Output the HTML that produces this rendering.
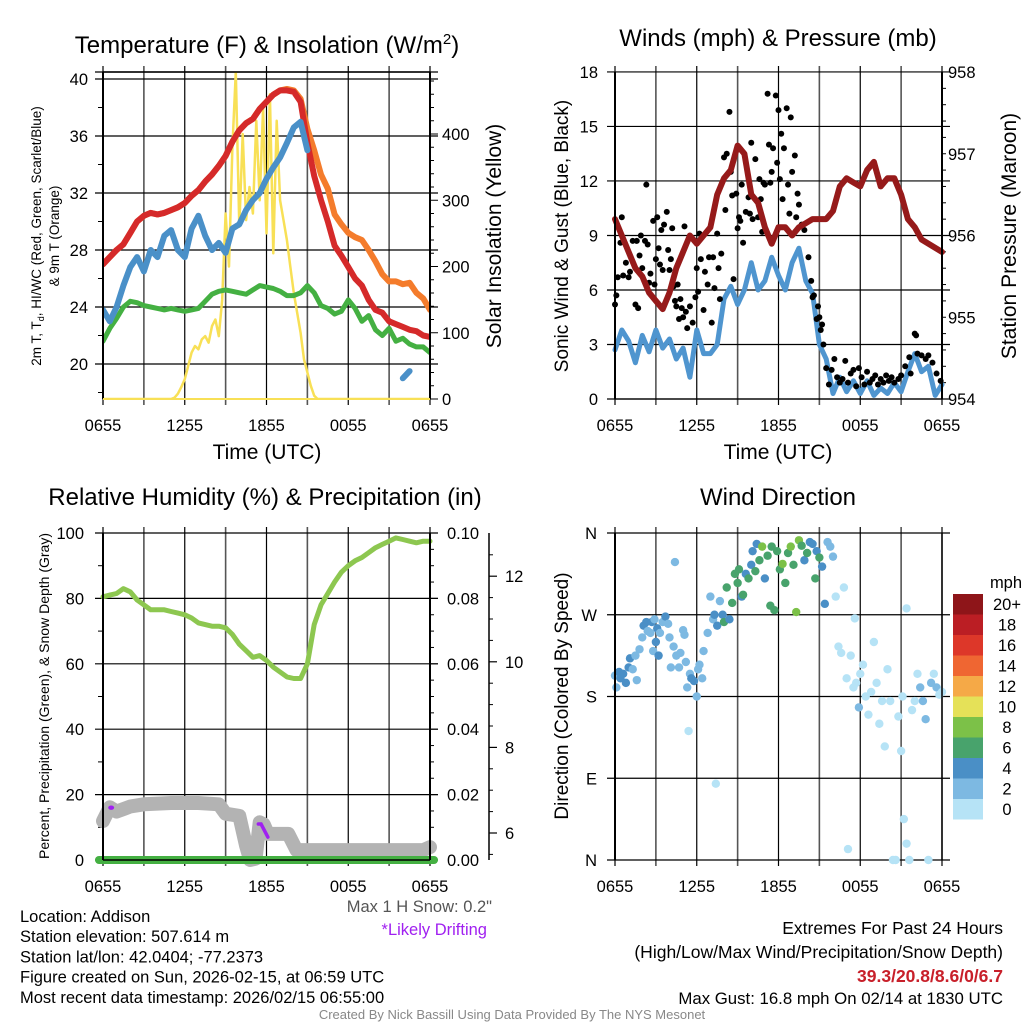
<!DOCTYPE html>
<html><head><meta charset="utf-8"><style>
body{margin:0;background:#fff}
svg{display:block;font-family:"Liberation Sans",sans-serif}
</style></head><body>
<svg id="c" width="1024" height="1024" viewBox="0 0 1024 1024" xmlns="http://www.w3.org/2000/svg"></svg>
<script>
// ---------- data ----------
const hrs = [0,0.5,1,1.5,2,2.5,3,3.5,4,4.5,5,5.5,6,6.5,7,7.5,8,8.5,9,9.5,10,10.5,11,11.5,12,12.5,13,13.5,14,14.5,15,15.5,16,16.5,17,17.5,18,18.5,19,19.5,20,20.5,21,21.5,22,22.5,23,23.5,24];
const xTickLabels = ["0655","1255","1855","0055","0655"];
const tempRed = [27.0,27.5,28.0,28.4,29.2,30.0,30.4,30.6,30.5,30.6,30.8,31.0,31.3,31.8,32.2,32.8,33.3,33.9,34.6,35.6,36.4,36.9,37.2,37.9,38.4,38.9,39.2,39.2,39.1,38.4,35.5,33.2,31.5,30.0,28.3,27.6,26.8,26.0,25.5,24.5,23.8,23.6,23.0,22.8,22.6,22.4,22.3,22.0,21.9];
const tempOrange = [27.0,27.5,28.0,28.4,29.2,30.0,30.4,30.6,30.5,30.6,30.8,31.0,31.3,31.8,32.2,32.8,33.3,33.9,34.6,35.6,36.4,36.9,37.2,37.9,38.4,38.9,39.2,39.3,39.2,38.6,36.5,35.0,33.3,32.3,30.5,29.8,29.2,28.9,28.7,28.0,27.2,26.3,25.8,25.8,25.6,25.7,25.0,24.6,23.8];
const dewGreen = [21.6,22.5,23.2,24.0,24.4,24.3,24.1,24.0,23.9,23.8,23.9,23.8,23.7,23.8,23.9,24.4,24.9,25.1,25.2,25.1,25.0,24.9,25.2,25.5,25.4,25.3,25.1,24.8,24.8,25.0,25.5,25.0,24.1,23.9,23.5,23.7,24.5,23.9,23.0,23.4,22.4,22.0,22.5,21.6,21.8,21.4,21.2,21.2,20.8];
const wcBlue = [23.8,23.0,24.0,25.5,26.8,27.5,26.5,28.0,27.5,29.0,29.4,28.0,27.5,29.5,30.4,29.0,28.0,28.5,27.8,29.5,29.8,30.8,31.5,32.0,33.0,33.8,34.5,35.5,36.6,37.0,35.0,null,null,null,null,null,null,null,null,null,null,null,null,null,19.0,19.5,null,null,null];
const insHrs = [0,5.0,5.25,5.5,5.75,6,6.25,6.5,6.75,7,7.25,7.5,7.75,8,8.25,8.5,8.75,9,9.25,9.5,9.75,10,10.25,10.5,10.75,11,11.25,11.5,11.75,12,12.25,12.5,12.75,13,13.25,13.5,13.75,14,14.25,14.5,14.75,15,15.25,15.5,15.75,24];
const insVals = [0,0,2,8,18,30,50,70,80,75,90,95,85,110,120,95,150,280,200,380,494,260,400,270,320,280,420,300,440,250,460,220,420,300,270,240,200,160,130,100,60,40,20,5,0,0];
const windBlue = [2.7,3.8,3.2,2.0,3.5,2.6,3.8,2.8,3.3,2.2,2.8,1.2,3.8,2.5,2.5,3.0,5.5,6.2,5.2,6.0,7.5,6.0,6.5,7.8,6.8,6.0,7.5,8.3,6.5,5.8,3.0,2.2,0.3,1.2,0.4,1.0,0.3,1.0,0.2,0.6,0.3,0.9,0.4,1.5,2.5,1.5,1.8,0.2,0.8];
const pressure = [956.2,956.0,955.8,955.6,955.5,955.3,955.2,955.1,955.3,955.6,955.8,956.0,955.9,956.0,956.1,956.5,956.7,956.8,957.1,957.0,956.5,956.4,956.1,955.9,956.1,956.1,956.0,956.1,956.15,956.2,956.2,956.2,956.3,956.6,956.7,956.65,956.6,956.8,956.9,956.6,956.7,956.7,956.5,956.2,956.1,955.95,955.9,955.85,955.8];
const gustHrs = [0,0.1,0.2,0.4,0.5,0.6,0.8,1.0,1.1,1.3,1.5,1.6,1.7,1.8,1.9,2.0,2.2,2.3,2.4,2.5,2.6,2.8,2.9,3.0,3.1,3.2,3.3,3.4,3.5,3.6,3.8,3.9,4.0,4.1,4.2,4.3,4.4,4.5,4.6,4.7,4.8,4.9,5.0,5.1,5.2,5.3,5.5,5.7,5.9,6.0,6.1,6.2,6.3,6.5,6.6,6.8,6.9,7.1,7.2,7.3,7.5,7.6,7.7,7.8,8.0,8.1,8.2,8.4,8.5,8.6,8.7,8.9,9.0,9.1,9.2,9.3,9.4,9.6,9.8,9.9,10.0,10.1,10.3,10.5,10.6,10.7,10.8,10.9,11.0,11.2,11.3,11.4,11.5,11.6,11.8,11.9,12.0,12.1,12.2,12.3,12.4,12.6,12.7,12.8,12.9,13.0,13.2,13.3,13.4,13.5,13.7,13.9,14.2,14.4,14.5,14.6,14.8,14.9,15.0,15.1,15.2,15.3,15.5,15.7,15.9,16.1,16.3,16.5,16.7,16.9,17.1,17.3,17.5,17.7,17.9,18.1,18.3,18.5,18.7,18.9,19.1,19.3,19.5,19.7,19.9,20.1,20.3,20.5,20.8,21.0,21.3,21.6,21.7,22.0,22.1,22.2,22.5,22.8,23.0,23.3,23.6,23.9];
const gustVals = [5.2,5.7,6.7,8.6,10.0,6.8,7.5,6.7,7.0,8.7,5.2,8.7,5.0,7.9,9.0,7.2,8.7,11.8,8.5,6.4,6.9,9.8,6.3,7.7,10.0,8.3,7.4,9.3,7.1,9.6,10.3,8.2,7.1,7.7,9.4,6.2,5.4,5.1,6.3,4.4,5.5,5.0,4.5,9.5,4.8,3.9,5.1,4.2,5.6,7.2,5.9,9.1,7.7,4.9,7.0,6.3,7.8,4.2,7.8,6.1,9.1,7.2,5.5,8.0,13.3,10.4,13.5,15.8,12.5,11.2,6.6,11.3,9.4,10.0,9.8,11.8,8.6,10.3,11.1,10.2,14.1,9.9,13.2,10.0,12.1,11.0,9.2,11.9,11.8,16.8,14.0,11.9,12.5,13.8,16.7,13.0,15.9,12.1,14.6,11.0,13.8,16.0,11.8,10.2,15.5,12.5,13.4,10.0,11.3,10.7,9.6,9.3,7.8,6.5,5.6,5.7,4.4,5.1,4.5,3.8,4.1,3.0,1.7,0.8,1.6,2.2,1.2,0.9,1.1,2.1,0.9,1.4,1.6,0.7,1.7,1.2,0.8,1.5,0.9,1.1,1.3,0.8,1.1,0.9,1.3,1.0,1.2,0.9,1.1,1.3,1.8,2.3,1.4,3.6,3.5,2.5,2.4,2.2,2.4,2.0,1.4,1.0];
const rh = [80.5,81,81.5,83,82,79.5,78,76.5,76.5,76.5,76,75.5,75,74,72.5,72,71.5,71.5,71,69,66,64,62,62.5,61,59,57.5,56,55.5,55.5,60,72,78,81.5,85,88,90,91.5,92.5,94,95.5,96.5,97.5,98.5,98,97.5,97,97.5,97.5];
const snowHrs = [0,0.5,1,2,3,5,7,8.5,9,10,10.5,10.8,11.2,11.5,11.8,12.1,13.6,14.2,23.5,24];
const snowDepth = [6.28,6.6,6.5,6.62,6.67,6.7,6.7,6.67,6.45,6.4,5.7,5.37,5.4,6.25,6.2,5.98,5.98,5.6,5.6,5.67];
const dirHrs = [0,0.1,0.3,0.4,0.6,0.8,1.0,1.1,1.3,1.5,1.6,1.8,2.0,2.1,2.3,2.4,2.6,2.7,2.8,2.9,3.0,3.1,3.2,3.3,3.5,3.7,3.9,4.0,4.1,4.3,4.4,4.5,4.7,4.8,5.0,5.1,5.2,5.3,5.4,5.5,5.6,5.8,6.0,6.1,6.2,6.4,6.5,6.8,7.0,7.2,7.3,7.4,7.5,7.7,7.9,8.0,8.2,8.4,8.6,8.8,9.0,9.1,9.3,9.4,9.6,9.8,10.0,10.1,10.3,10.4,10.6,10.8,11.0,11.2,11.4,11.5,11.7,11.9,12.1,12.3,12.5,12.7,12.9,13.1,13.3,13.5,13.7,13.9,14.1,14.3,14.5,14.7,14.8,15.0,15.2,15.4,15.6,15.8,16.0,16.2,16.4,16.6,16.8,17.0,17.1,17.3,17.5,17.6,17.7,17.9,18.0,18.2,18.4,18.6,18.8,19.0,19.2,19.4,19.6,19.8,20.0,20.2,20.4,20.6,20.8,21.0,21.1,21.2,21.4,21.4,21.6,21.8,22.0,22.2,22.4,22.6,22.8,23.0,23.2,23.4,23.6,23.8,24];
const dirDeg = [203,190,207,200,205,195,212,222,210,225,198,232,245,258,262,252,250,262,230,265,240,255,225,250,262,268,260,245,212,235,328,225,212,228,253,248,218,190,142,205,200,197,180,210,215,200,230,250,290,265,270,84,258,285,270,262,300,265,283,315,305,320,290,292,315,310,325,340,318,348,330,345,310,335,280,345,275,340,320,326,305,338,345,325,273,352,346,330,338,350,348,310,340,333,323,282,350,345,334,290,235,228,300,200,12,225,190,266,195,168,205,215,180,160,185,240,195,150,175,125,210,175,0,0,158,120,180,45,18,277,0,165,175,205,190,175,155,0,195,205,190,182,185];
const dirSpd = [3,3,4,4,4,4,4,4,3,3,3,3,3,4,4,3,3,4,3,2,4,4,4,3,3,4,2,3,3,3,2,3,3,2,3,2,3,2,1,3,4,4,2,2,3,3,3,2,2,2,4,1,4,3,4,6,6,5,6,6,6,6,4,6,5,6,5,4,6,5,6,8,4,6,6,7,6,6,6,8,6,6,8,6,8,8,6,5,6,5,4,6,4,6,4,4,2,2,2,1,1,1,1,1,1,1,1,1,1,3,1,1,1,1,1,1,1,1,1,1,1,1,1,1,1,1,1,1,1,1,1,1,1,1,3,2,3,1,2,1,3,1,1];
const speedBins = ["0","2","4","6","8","10","12","14","16","18","20+"];
const binColors = ["#b6e3f6","#7db9e2","#4a8fc6","#48a36c","#7cc148","#e5e158","#f5a947","#ef6632","#dd3729","#bb1e24","#8e1519"];

// ---------- helpers ----------
const S = document.getElementById('c');
const NS = 'http://www.w3.org/2000/svg';
const TF = 16.5;
function mk(tag, attrs, parent){const e=document.createElementNS(NS,tag);for(const k in attrs)e.setAttribute(k,attrs[k]);(parent||S).appendChild(e);return e;}
function txt(x,y,s,size,anchor,parent,extra){const e=mk('text',Object.assign({x:x,y:y,'font-size':size,'text-anchor':anchor||'middle',fill:'#000'},extra||{}),parent);e.textContent=s;return e;}
function grp(name){const g=mk('g',{});return g;}
function line(x1,y1,x2,y2,stroke,w,p){return mk('line',{x1:x1,y1:y1,x2:x2,y2:y2,stroke:stroke,'stroke-width':w},p);}
function poly(xs,ys,fx,fy,stroke,w,p,name){let d='',pen=false;for(let i=0;i<xs.length;i++){if(ys[i]===null||ys[i]===undefined){pen=false;continue;}d+=(pen?'L':'M')+fx(xs[i]).toFixed(1)+','+fy(ys[i]).toFixed(1);pen=true;}const e=mk('path',{d:d,fill:'none',stroke:stroke,'stroke-width':w,'stroke-linejoin':'round','stroke-linecap':'round'},p);return e;}

function panelFrame(g,x0,x1,yT,yB,hLines,xLabels){
  for(let k=0;k<=8;k++){const x=x0+(x1-x0)*k/8;line(x,yT-6,x,yB+6,k%2?'#555':'#000',k%2?1.6:1.2,g);}
  hLines.forEach(y=>line(x0-8,y,x1+8,y,'#000',1.2,g));
  xLabels.forEach((s,i)=>{const t=txt(x0+(x1-x0)*i/4,yB+32,s,TF,'middle',g);});
}

// ---------- Panel 1 ----------
(function(){
 const x0=103,x1=430,yT=72,yB=399;
 const fx=h=>x0+h*(x1-x0)/24, fyT=t=>79+(40-t)*14.25, fyI=v=>yB-v*0.6625;
 const g=grp('temperature-panel');
 const title=txt(267,53,'Temperature (F) & Insolation (W/m',24,'middle',g);
 const sup=mk('tspan',{dy:-9,'font-size':15},title);sup.textContent='2';
 const cl=mk('tspan',{dy:9},title);cl.textContent=')';
 
 const tk=[40,36,32,28,24,20];
 panelFrame(g,x0,x1,yT,yB,tk.map(fyT).concat([yT]),xTickLabels);
 tk.forEach(t=>txt(88,fyT(t)+6,String(t),TF,'end',g));
 for(let t=18;t<=40;t+=2) if(t%4) line(x0-5,fyT(t),x0,fyT(t),'#000',1,g);
 [0,100,200,300,400].forEach(v=>{txt(442,fyI(v)+6,String(v),TF,'start',g);});
 for(let v=0;v<=480;v+=20) line(x1,fyI(v),x1+(v%100?4:8),fyI(v),'#000',1,g);
 const yl=mk('g',{transform:'translate(41,236) rotate(-90)'},g);
 txt(0,0,'2m T, T',13.5,'middle',yl).innerHTML='2m T, T<tspan font-size="9" dy="3">d</tspan><tspan dy="-3">, HI/WC (Red, Green, Scarlet/Blue)</tspan>';
 txt(0,18,'& 9m T (Orange)',13.5,'middle',yl);
 const yr=txt(0,0,'Solar Insolation (Yellow)',21,'middle',g,{transform:'translate(501,236) rotate(-90)'});
 const xt=txt(267,459,'Time (UTC)',21,'middle',g);
 const cp=mk('clipPath',{id:'cp1'});mk('rect',{x:x0,y:yT,width:x1-x0,height:yB-yT},cp);
 const d=mk('g',{'clip-path':'url(#cp1)'},g);
 poly(insHrs,insVals,fx,fyI,'#f8e056',2.5,d,'insolation-line');
 poly(hrs,dewGreen,fx,fyT,'#44b042',5,d,'dewpoint-line');
 poly(hrs,tempOrange,fx,fyT,'#f47c2c',6,d,'temp-9m-line');
 poly(hrs,tempRed,fx,fyT,'#d52a2a',6,d,'temp-2m-line');
 poly(hrs,wcBlue,fx,fyT,'#4a90c8',6,d,'windchill-line');
 line(x0,yT,x0,yB,'#000',2,g);line(x1,yT,x1,yB,'#000',2,g);line(x0,yT,x1,yT,'#000',1.5,g);line(x0,yB,x1,yB,'#f8e056',2,g);
})();

// ---------- Panel 2 ----------
(function(){
 const x0=615,x1=942,yT=72,yB=399;
 const fx=h=>x0+h*(x1-x0)/24, fyW=v=>yB-v*18.17, fyP=p=>yB-(p-954)*81.75;
 const g=grp('wind-panel');
 const t=txt(778,46,'Winds (mph) & Pressure (mb)',24,'middle',g);
 const tk=[0,3,6,9,12,15,18];
 panelFrame(g,x0,x1,yT,yB,tk.map(fyW),xTickLabels);
 tk.forEach(v=>txt(598,fyW(v)+6,String(v),TF,'end',g));
 [954,955,956,957,958].forEach(p=>txt(948,fyP(p)+6,String(p),TF,'start',g));
 for(let p=954;p<=958.01;p+=0.2) line(x1,fyP(p),x1+4,fyP(p),'#000',1,g);
 const yl=txt(0,0,'Sonic Wind & Gust (Blue, Black)',19,'middle',g,{transform:'translate(568,236) rotate(-90)'});
 const yr=txt(0,0,'Station Pressure (Maroon)',21,'middle',g,{transform:'translate(1016,236) rotate(-90)'});
 const xt=txt(778,459,'Time (UTC)',21,'middle',g);
 poly(hrs,windBlue,fx,fyW,'#4f95cf',5,g,'sonic-wind-line');
 const gg=mk('g',{},g);
 for(let i=0;i<gustHrs.length;i++){
   const c=mk('circle',{cx:fx(gustHrs[i]),cy:fyW(gustVals[i]),r:3,fill:'#000'},gg);
   
   
 }
 poly(hrs,pressure,fx,fyP,'#961a1a',6,g,'pressure-line');
 line(x0,yT,x0,yB,'#000',2,g);line(x1,yT,x1,yB,'#000',2,g);line(x0,yB,x1,yB,'#000',1.2,g);
})();

// ---------- Panel 3 ----------
(function(){
 const x0=103,x1=430,yT=533,yB=860;
 const fx=h=>x0+h*(x1-x0)/24, fyR=p=>yB-p*3.27, fyS=s=>833-(s-6)*42.8;
 const g=grp('humidity-panel');
 const t=txt(265,505,'Relative Humidity (%) & Precipitation (in)',24,'middle',g);
 const tk=[0,20,40,60,80,100];
 panelFrame(g,x0,x1,yT,yB,tk.map(fyR),xTickLabels);
 tk.forEach(v=>txt(84,fyR(v)+6,String(v),TF,'end',g));
 for(let v=10;v<100;v+=20) line(x0-5,fyR(v),x0,fyR(v),'#000',1,g);
 ['0.00','0.02','0.04','0.06','0.08','0.10'].forEach((s,i)=>txt(447,fyR(i*20)+6,s,TF,'start',g));
 for(let v=0;v<=100;v+=5) line(x1,fyR(v),x1+(v%20?4:8),fyR(v),'#000',1,g);
 line(489,yT,489,yB,'#000',1.5,g);
 [6,8,10,12].forEach(s=>{txt(505,fyS(s)+6,String(s),TF,'start',g);line(489,fyS(s),497,fyS(s),'#000',1.2,g);});
 for(let s=5.5;s<13;s+=0.5) if(s%2) line(489,fyS(s),493,fyS(s),'#000',1,g);
 const yl=txt(0,0,'Percent, Precipitation (Green), & Snow Depth (Gray)',14,'middle',g,{transform:'translate(49,696) rotate(-90)'});
 poly(hrs,rh,fx,fyR,'#8dc750',5,g,'humidity-line');
 poly(snowHrs,snowDepth,fx,fyS,'#b3b3b3',14,g,'snow-depth-line');
 const p1=mk('ellipse',{cx:fx(0.6),cy:fyR(16),rx:3,ry:2.2,fill:'#a020f0'},g);
 const p2=mk('path',{d:'M'+fx(11.4)+','+fyR(11)+'L'+fx(11.6)+','+fyR(11)+'L'+fx(12.1)+','+fyR(7),stroke:'#a020f0','stroke-width':3.5,fill:'none','stroke-linecap':'round'},g);
 line(x0-4,yB,x1+4,yB,'#44b042',8,g).setAttribute('stroke-linecap','round');
 line(x0,yB,x1,yB,'#000',1.5,g);
 line(x0,yT,x0,yB,'#000',2,g);line(x1,yT,x1,yB,'#000',2,g);
 txt(492,912,'Max 1 H Snow: 0.2"',16.5,'end',g,{fill:'#555'});
 txt(487,935,'*Likely Drifting',16.5,'end',g,{fill:'#a020f0'});
})();

// ---------- Panel 4 ----------
(function(){
 const x0=615,x1=942,yT=533,yB=860;
 const fx=h=>x0+h*(x1-x0)/24, fyD=d=>yB-d*0.9083;
 const g=grp('wind-direction-panel');
 const t=txt(778,505,'Wind Direction',24,'middle',g);
 panelFrame(g,x0,x1,yT,yB,[0,90,180,270,360].map(fyD),xTickLabels);
 ['N','E','S','W','N'].forEach((s,i)=>txt(597,fyD(i*90)+6,s,TF,'end',g));
 const yl=txt(0,0,'Direction (Colored By Speed)',19,'middle',g,{transform:'translate(568,696) rotate(-90)'});
 const dg=mk('g',{},g);
 for(let i=0;i<dirHrs.length;i++){
   const b=Math.min(10,Math.floor(dirSpd[i]/2));
   const c=mk('circle',{cx:fx(dirHrs[i]),cy:fyD(dirDeg[i]),r:4.2,fill:binColors[b]},dg);
   
   
 }
 line(x0,yT,x0,yB,'#000',2,g);line(x1,yT,x1,yB,'#000',1.5,g);
 const lg=grp('speed-legend');
 txt(1006,588,'mph',TF,'middle',lg);
 for(let i=0;i<speedBins.length;i++){
   const k=10-i, y=594+i*20.5;
   const r=mk('rect',{x:953,y:y,width:30,height:20.5,fill:binColors[k]},lg);
   
   
   txt(1007,y+16,speedBins[k],TF,'middle',lg);
 }
})();

// ---------- footer text ----------
const ft=grp('station-info');
['Location: Addison','Station elevation: 507.614 m','Station lat/lon: 42.0404; -77.2373','Figure created on Sun, 2026-02-15, at 06:59 UTC','Most recent data timestamp: 2026/02/15 06:55:00'].forEach((s,i)=>txt(20,922+i*20.2,s,16.5,'start',ft));
const ex=grp('extremes-summary');
txt(1003,934,'Extremes For Past 24 Hours',17.5,'end',ex);
txt(1003,958,'(High/Low/Max Wind/Precipitation/Snow Depth)',17.5,'end',ex);
txt(1003,982,'39.3/20.8/8.6/0/6.7',17.5,'end',ex,{fill:'#c8202a','font-weight':'bold'});
txt(1003,1004,'Max Gust: 16.8 mph On 02/14 at 1830 UTC',16.8,'end',ex);
const cr=txt(512,1019,'Created By Nick Bassill Using Data Provided By The NYS Mesonet',13,'middle',S,{fill:'#888'});

</script>
</body></html>
